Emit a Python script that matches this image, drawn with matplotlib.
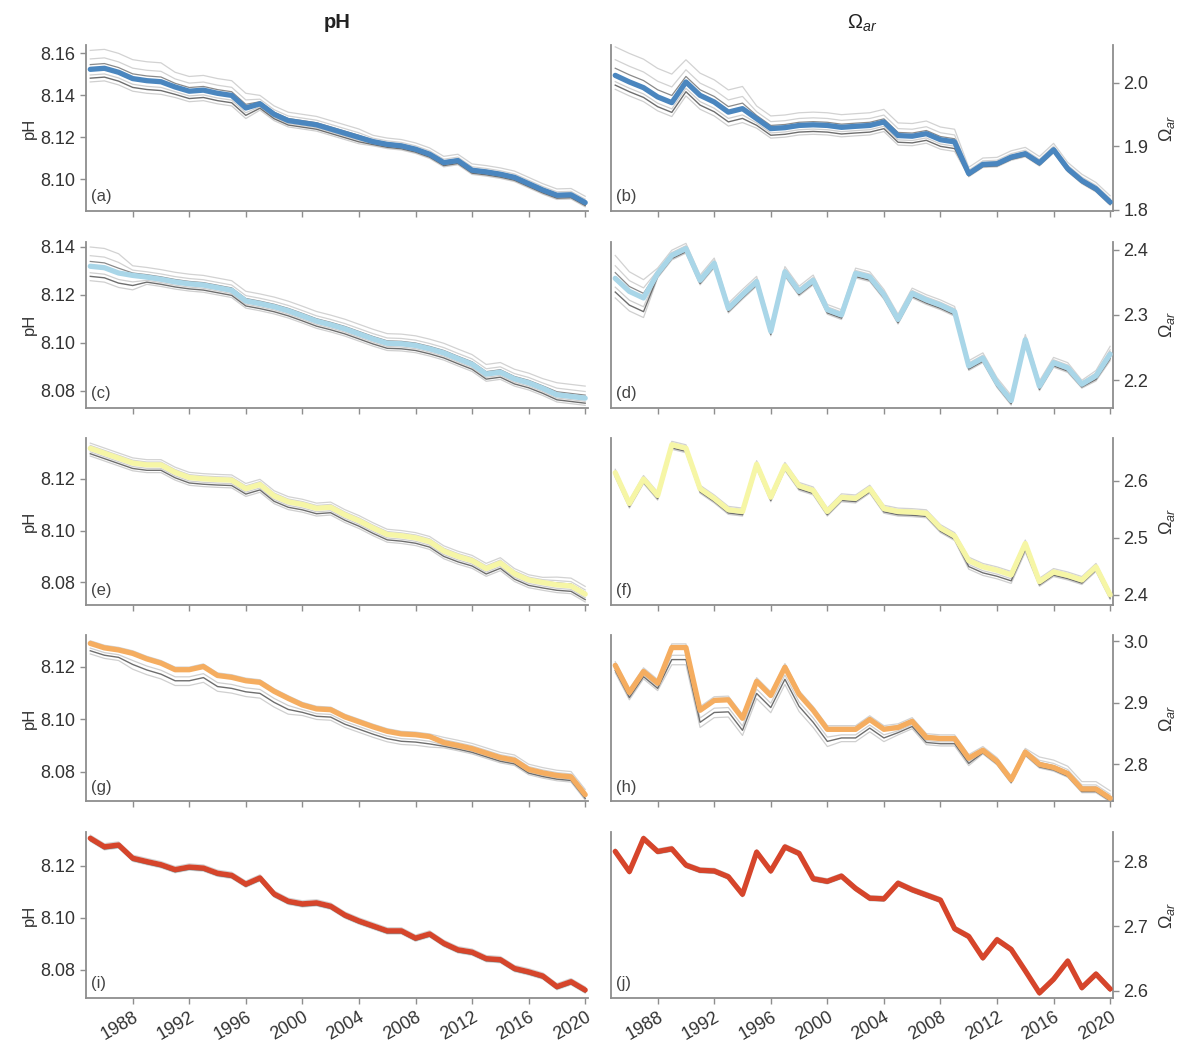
import matplotlib
matplotlib.use("Agg")
import matplotlib.pyplot as plt
import numpy as np

plt.rcParams["font.family"] = ["Liberation Sans", "DejaVu Sans"]
plt.rcParams["mathtext.fontset"] = "custom"
plt.rcParams["mathtext.rm"] = "Liberation Sans"
plt.rcParams["mathtext.it"] = "Liberation Sans:italic"

years = np.arange(1985, 2021)
year_ticks = [1988, 1992, 1996, 2000, 2004, 2008, 2012, 2016, 2020]
panel_tags = ["(a)", "(b)", "(c)", "(d)", "(e)", "(f)", "(g)", "(h)", "(i)", "(j)"]

# ensemble-mean series, one per region (rows) and variable (columns)
ph_1 = [8.1524, 8.1529, 8.151, 8.148, 8.147, 8.1465, 8.144, 8.142, 8.1425, 8.141,
        8.140, 8.134, 8.136, 8.131, 8.128, 8.127, 8.126, 8.124, 8.122, 8.120,
        8.118, 8.1167, 8.116, 8.1144, 8.112, 8.108, 8.109, 8.1044, 8.1036, 8.1025,
        8.101, 8.098, 8.095, 8.0925, 8.0927, 8.089]
om_1 = [2.012, 2.0016, 1.9926, 1.978, 1.969, 2.0016, 1.9805, 1.970, 1.954, 1.9595,
        1.9437, 1.928, 1.9295, 1.933, 1.934, 1.933, 1.930, 1.9316, 1.933, 1.9384,
        1.917, 1.916, 1.920, 1.9105, 1.907, 1.857, 1.8716, 1.8726, 1.883, 1.8884,
        1.874, 1.8947, 1.8647, 1.846, 1.833, 1.812]
ph_2 = [8.1318, 8.1312, 8.129, 8.128, 8.1273, 8.1264, 8.1253, 8.1245, 8.124, 8.1229,
        8.1218, 8.1174, 8.1163, 8.115, 8.1133, 8.1112, 8.109, 8.1075, 8.1058, 8.1037,
        8.1016, 8.0998, 8.0996, 8.0989, 8.0975, 8.0958, 8.0934, 8.0911, 8.0870, 8.0878,
        8.0850, 8.0834, 8.0811, 8.0784, 8.0777, 8.077]
om_2 = [2.356, 2.336, 2.326, 2.3636, 2.391, 2.4015, 2.353, 2.379, 2.310, 2.331,
        2.351, 2.275, 2.366, 2.336, 2.353, 2.308, 2.300, 2.3636, 2.358, 2.331,
        2.293, 2.333, 2.323, 2.315, 2.305, 2.222, 2.234, 2.196, 2.169, 2.262,
        2.191, 2.227, 2.219, 2.194, 2.207, 2.240]
ph_3 = [8.1318, 8.1299, 8.128, 8.1261, 8.1254, 8.1254, 8.1225, 8.1205, 8.12, 8.1197,
        8.1195, 8.1162, 8.1178, 8.1134, 8.1111, 8.1101, 8.1086, 8.109, 8.1061, 8.1038,
        8.101, 8.0985, 8.098, 8.0972, 8.0957, 8.0921, 8.09, 8.0884, 8.0853, 8.0875,
        8.0833, 8.0809, 8.0799, 8.079, 8.0786, 8.0754]
om_3 = [2.614, 2.560, 2.603, 2.574, 2.663, 2.657, 2.586, 2.569, 2.549, 2.546,
        2.629, 2.571, 2.626, 2.591, 2.583, 2.546, 2.571, 2.569, 2.586, 2.551,
        2.546, 2.545, 2.543, 2.517, 2.503, 2.46, 2.449, 2.443, 2.435, 2.49,
        2.423, 2.44, 2.434, 2.426, 2.449, 2.40]
ph_4 = [8.1288, 8.1271, 8.1263, 8.125, 8.1229, 8.1213, 8.1188, 8.1188, 8.12, 8.1166,
        8.1159, 8.1146, 8.114, 8.1106, 8.1079, 8.1054, 8.1039, 8.1036, 8.1009, 8.099,
        8.0971, 8.0954, 8.0944, 8.0941, 8.0934, 8.0911, 8.09, 8.0888, 8.0871, 8.0854,
        8.0844, 8.0809, 8.0796, 8.0786, 8.0781, 8.0713]
om_4 = [2.961, 2.917, 2.951, 2.932, 2.990, 2.990, 2.888, 2.904, 2.905, 2.875,
        2.935, 2.912, 2.958, 2.914, 2.888, 2.857, 2.857, 2.857, 2.873, 2.857,
        2.860, 2.870, 2.844, 2.842, 2.842, 2.810, 2.823, 2.805, 2.775, 2.82,
        2.80, 2.795, 2.785, 2.76, 2.76, 2.745]
ph_5 = [8.1306, 8.1273, 8.128, 8.1229, 8.1216, 8.1204, 8.1185, 8.1195, 8.1191, 8.1171,
        8.1163, 8.1129, 8.1153, 8.1091, 8.1063, 8.1053, 8.1057, 8.1044, 8.101, 8.0987,
        8.0968, 8.0949, 8.0949, 8.0921, 8.0937, 8.0901, 8.0876, 8.0867, 8.0842, 8.0838,
        8.0804, 8.0791, 8.0775, 8.0734, 8.0753, 8.0721]
om_5 = [2.815, 2.784, 2.835, 2.815, 2.819, 2.794, 2.786, 2.785, 2.776, 2.749,
        2.814, 2.785, 2.822, 2.812, 2.773, 2.769, 2.777, 2.758, 2.743, 2.742,
        2.766, 2.756, 2.748, 2.740, 2.696, 2.684, 2.651, 2.679, 2.664, 2.631,
        2.597, 2.618, 2.646, 2.605, 2.626, 2.603]

# spread of the individual members above / below the mean
up_ph_1 = [0.009] * 6 + [0.007] * 6 + [0.004] * 8 + [0.003] * 16
lo_ph_1 = [0.006] * 6 + [0.005] * 6 + [0.003] * 8 + [0.002] * 16
up_om_1 = [0.045] * 5 + [0.035] * 5 + [0.02] * 15 + [0.01] * 11
lo_om_1 = [0.022] * 10 + [0.015] * 15 + [0.005] * 11
up_ph_2 = [0.008] * 3 + [0.004] * 30 + [0.005] * 3
lo_ph_2 = [0.006] * 4 + [0.003] * 32
up_om_2 = [0.035, 0.03, 0.028] + [0.008] * 30 + [0.006, 0.008, 0.012]
lo_om_2 = [0.03, 0.03, 0.03] + [0.007] * 30 + [0.006, 0.008, 0.01]
up_ph_3 = [0.002] * 33 + [0.003] * 3
lo_ph_3 = [0.003] * 36
up_om_3 = [0.006] * 36
lo_om_3 = [0.008] * 25 + [0.015] * 5 + [0.008] * 6
up_ph_4 = [0.001] * 25 + [0.002] * 11
lo_ph_4 = [0.004] * 3 + [0.006] * 12 + [0.004] * 10 + [0.002] * 11
up_om_4 = [0.006] * 30 + [0.012] * 6
lo_om_4 = [0.012] * 4 + [0.028] * 12 + [0.02] * 4 + [0.012] * 6 + [0.006] * 10
up_ph_5 = [0.0012] * 36
lo_ph_5 = [0.0012] * 36
up_om_5 = [0.004] * 36
lo_om_5 = [0.004] * 36

ph_series = [ph_1, ph_2, ph_3, ph_4, ph_5]
om_series = [om_1, om_2, om_3, om_4, om_5]
ph_up = [up_ph_1, up_ph_2, up_ph_3, up_ph_4, up_ph_5]
ph_lo = [lo_ph_1, lo_ph_2, lo_ph_3, lo_ph_4, lo_ph_5]
om_up = [up_om_1, up_om_2, up_om_3, up_om_4, up_om_5]
om_lo = [lo_om_1, lo_om_2, lo_om_3, lo_om_4, lo_om_5]

ph_limits = [(8.085, 8.164), (8.073, 8.142), (8.0714, 8.1356), (8.0688, 8.1319), (8.069, 8.133)]
om_limits = [(1.798, 2.06), (2.158, 2.412), (2.383, 2.674), (2.740, 3.01), (2.589, 2.845)]
ph_ticks = [[8.10, 8.12, 8.14, 8.16], [8.08, 8.10, 8.12, 8.14], [8.08, 8.10, 8.12],
            [8.08, 8.10, 8.12], [8.08, 8.10, 8.12]]
om_ticks = [[1.8, 1.9, 2.0], [2.2, 2.3, 2.4], [2.4, 2.5, 2.6], [2.8, 2.9, 3.0], [2.6, 2.7, 2.8]]

colors = ["#4a86bf", "#a9d6e8", "#f6f6a6", "#f5ad60", "#d6452b"]

spine_col = "#8e8e8e"
text_col = "#333333"

fig = plt.figure(figsize=(11.77, 10.43), dpi=100)
gs = fig.add_gridspec(5, 2, left=0.0731, right=0.9456, top=0.9569, bottom=0.0431,
                      hspace=0.185, wspace=0.0458)


def draw(ax, mean, up, lo, color):
    mean = np.asarray(mean)
    up = np.asarray(up)
    lo = np.asarray(lo)
    for w in (1.0, 0.55):
        ax.plot(years, mean + w * up, color="#d2d2d2", lw=0.9, zorder=1)
    for w in (1.0, 0.45):
        ax.plot(years, mean - w * lo, color="#cfcfcf", lw=0.9, zorder=1)
    ax.plot(years, mean - 0.7 * lo, color="#6e6e6e", lw=1.0, zorder=2)
    ax.plot(years, mean + 0.25 * up, color="#8a8a8a", lw=0.9, zorder=2)
    ax.plot(years, mean, color=color, lw=3.8, zorder=3, solid_capstyle="round",
            solid_joinstyle="round")


for r in range(5):
    axl = fig.add_subplot(gs[r, 0])
    axr = fig.add_subplot(gs[r, 1])

    draw(axl, ph_series[r], ph_up[r], ph_lo[r], colors[r])
    draw(axr, om_series[r], om_up[r], om_lo[r], colors[r])

    for ax in (axl, axr):
        ax.set_xlim(1984.7, 2020.2)
        ax.set_xticks(year_ticks)
        for s in ax.spines.values():
            s.set_color(spine_col)
            s.set_linewidth(1.3)
        ax.spines["top"].set_visible(False)
        ax.tick_params(axis="both", colors=spine_col, labelcolor=text_col,
                       labelsize=13, length=4, width=1.0, direction="out")
        if r < 4:
            ax.set_xticklabels([])
        else:
            ax.set_xticklabels([str(y) for y in year_ticks], rotation=30,
                               ha="right", rotation_mode="anchor")

    # left column: pH
    axl.spines["right"].set_visible(False)
    axl.set_ylim(*ph_limits[r])
    axl.set_yticks(ph_ticks[r])
    axl.set_yticklabels([f"{v:.2f}" for v in ph_ticks[r]])
    axl.set_ylabel("pH", fontsize=12, color=text_col, labelpad=3)
    axl.text(0.01, 0.04, panel_tags[2 * r], transform=axl.transAxes,
             fontsize=12, color="#444444", va="bottom", ha="left")

    # right column: aragonite saturation state
    axr.set_ylim(*om_limits[r])
    axr.set_yticks(om_ticks[r])
    axr.set_yticklabels([f"{v:.1f}" for v in om_ticks[r]])
    axr.yaxis.tick_right()
    axr.yaxis.set_label_position("right")
    axr.set_ylabel(r"$\Omega_{ar}$", fontsize=13, color=text_col, labelpad=6)
    axr.text(0.01, 0.04, panel_tags[2 * r + 1], transform=axr.transAxes,
             fontsize=12, color="#444444", va="bottom", ha="left")

    if r == 0:
        axl.set_title("pH", fontsize=14.5, fontweight="bold", color="#222222", pad=12)
        axr.set_title(r"$\Omega_{ar}$", fontsize=14.5, color="#222222", pad=12)

fig.savefig("out.png", dpi=100)
